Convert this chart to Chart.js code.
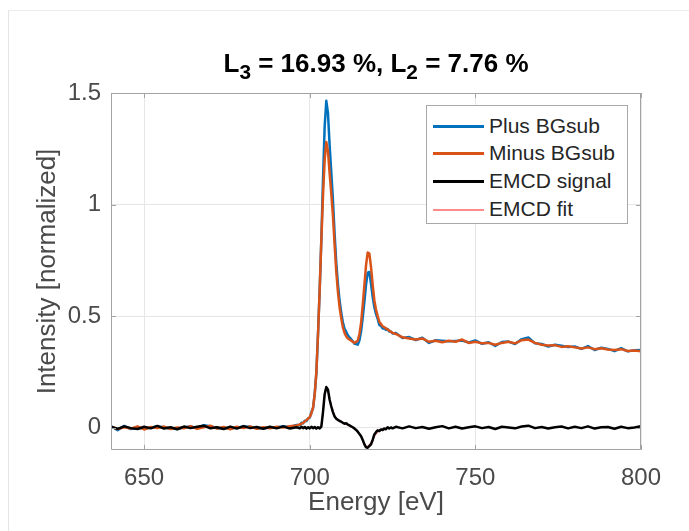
<!DOCTYPE html>
<html>
<head>
<meta charset="utf-8">
<script src="https://cdn.jsdelivr.net/npm/chart.js@4.4.1/dist/chart.umd.min.js"></script>
<style>
  body { margin: 0; background: #fff; }
  #wrap { position: relative; width: 689px; height: 531px; font-family: 'Liberation Sans', Arial, sans-serif; }
  #frame { position: absolute; left: 8px; top: 10px; right: 0; bottom: 0; border-left: 1px solid #e4e4e4; border-top: 1px solid #ececec; }
  #title { position: absolute; left: 111px; width: 530px; top: 50px; text-align: center; font-size: 26px; line-height: 26px; font-weight: bold; color: #000; white-space: nowrap; }
  #title span { font-size: 0.8em; vertical-align: -0.36em; line-height: 0; }
  #legend { position: absolute; left: 426px; top: 105px; width: 200px; height: 117px; border: 1px solid #a8a8a8; background: #fff; }
  .row { position: absolute; left: 0; height: 28px; width: 200px; }
  .row i { position: absolute; left: 6px; width: 51px; top: 13px; height: 3px; }
  .row b { position: absolute; left: 62px; top: 0; font-weight: normal; font-size: 21px; line-height: 28px; color: #262626; white-space: nowrap; }
  canvas { position: absolute; left: 0; top: 0; }
</style>
</head>
<body>
<div id="wrap">
  <div id="frame"></div>
  <canvas id="chart" width="689" height="531"></canvas>
  <div id="title">L<span>3</span> = 16.93 %, L<span>2</span> = 7.76 %</div>
  <div id="legend">
    <div class="row" style="top:6px"><i style="background:#0072BD"></i><b>Plus BGsub</b></div>
    <div class="row" style="top:33px"><i style="background:#D95319"></i><b>Minus BGsub</b></div>
    <div class="row" style="top:61px"><i style="background:#000"></i><b>EMCD signal</b></div>
    <div class="row" style="top:89px"><i style="background:#ff8c8c;height:2px;top:14px"></i><b>EMCD fit</b></div>
  </div>
</div>
<script>
'use strict';
// energy axis in eV (coarser away from the edges)
let energy = [
  640, 642, 644, 646, 648, 650, 652, 654, 656, 658,
  660, 662, 664, 666, 668, 670, 672, 674, 676, 678,
  680, 682, 684, 686, 688, 690, 692, 694, 696,
  697, 697.5, 698, 698.5, 699, 699.5, 700, 700.5, 701, 701.5,
  702, 702.5, 703, 703.5, 704, 704.5, 705, 705.5, 706, 706.5,
  707, 707.5, 708, 708.5, 709, 709.5, 710, 710.5, 711, 711.5,
  712, 712.5, 713, 713.5, 714, 714.5, 715, 715.5, 716, 716.5,
  717, 717.5, 718, 718.5, 719, 719.5, 720, 720.5, 721, 721.5,
  722, 722.5, 723, 723.5, 724, 724.5, 725,
  726, 728, 730, 732, 734, 736, 738, 740, 742, 744,
  746, 748, 750, 752, 754, 756, 758, 760, 762, 764,
  766, 768, 770, 772, 774, 776, 778, 780, 782, 784,
  786, 788, 790, 792, 794, 796, 798, 800
];
let plusBG = [
  0.007, -0.011, 0.008, -0.006, 0.000, -0.004, 0.000, 0.006, 0.001, -0.004,
  -0.006, 0.002, 0.005, -0.001, 0.011, 0.006, -0.002, -0.003, -0.002, 0.000,
  0.005, 0.004, -0.002, -0.003, 0.001, 0.001, 0.007, 0.002, 0.012,
  0.011, 0.022, 0.020, 0.031, 0.030, 0.042, 0.045, 0.069, 0.088, 0.153,
  0.246, 0.422, 0.617, 0.845, 1.11, 1.35, 1.465, 1.41, 1.265, 1.145,
  1.02, 0.87, 0.74, 0.645, 0.57, 0.517, 0.472, 0.443, 0.43, 0.414,
  0.405, 0.396, 0.387, 0.376, 0.375, 0.372, 0.392, 0.432, 0.495, 0.565,
  0.642, 0.695, 0.698, 0.645, 0.585, 0.54, 0.51, 0.488, 0.46, 0.457,
  0.445, 0.446, 0.438, 0.442, 0.431, 0.431, 0.422,
  0.424, 0.402, 0.406, 0.393, 0.403, 0.380, 0.392, 0.390, 0.387, 0.389,
  0.391, 0.382, 0.391, 0.376, 0.383, 0.366, 0.384, 0.386, 0.375, 0.397,
  0.404, 0.378, 0.375, 0.364, 0.372, 0.367, 0.362, 0.364, 0.353, 0.366,
  0.348, 0.358, 0.353, 0.343, 0.356, 0.342, 0.347, 0.348
];
let minusBG = [
  0.004, -0.006, 0.002, -0.004, 0.006, -0.008, 0.003, -0.002, 0.005, -0.006,
  0.001, -0.003, 0.007, -0.005, 0.002, 0.009, -0.004, 0.003, -0.007, 0.004,
  -0.002, 0.006, -0.005, 0.002, -0.003, 0.004, 0.001, 0.006, 0.010,
  0.014, 0.018, 0.022, 0.028, 0.034, 0.040, 0.048, 0.065, 0.09, 0.15,
  0.25, 0.42, 0.62, 0.84, 1.04, 1.20, 1.28, 1.24, 1.14, 1.05,
  0.95, 0.82, 0.70, 0.61, 0.54, 0.49, 0.45, 0.425, 0.41, 0.40,
  0.395, 0.39, 0.385, 0.38, 0.385, 0.39, 0.42, 0.47, 0.55, 0.64,
  0.73, 0.785, 0.78, 0.72, 0.64, 0.57, 0.53, 0.50, 0.475, 0.465,
  0.455, 0.45, 0.445, 0.44, 0.435, 0.43, 0.425,
  0.420, 0.405, 0.400, 0.395, 0.400, 0.385, 0.390, 0.383, 0.390, 0.385,
  0.395, 0.380, 0.385, 0.378, 0.380, 0.372, 0.380, 0.385, 0.378, 0.392,
  0.395, 0.380, 0.372, 0.368, 0.370, 0.362, 0.365, 0.360, 0.355, 0.360,
  0.352, 0.356, 0.350, 0.348, 0.352, 0.344, 0.346, 0.342
];
let emcdSignal = [
  0.003, -0.005, 0.006, -0.002, -0.006, 0.004, -0.003, 0.008, -0.004, 0.002,
  -0.007, 0.005, -0.002, 0.004, 0.009, -0.003, 0.002, -0.006, 0.005, -0.004,
  0.007, -0.002, 0.003, -0.005, 0.004, -0.003, 0.006, -0.004, 0.002,
  -0.003, 0.004, -0.002, 0.003, -0.004, 0.002, -0.003, 0.004, -0.002, 0.003,
  -0.004, 0.002, -0.003, 0.005, 0.07, 0.15, 0.182, 0.17, 0.125, 0.095,
  0.07, 0.05, 0.04, 0.035, 0.03, 0.027, 0.022, 0.018, 0.02, 0.014,
  0.01, 0.006, 0.002, -0.004, -0.01, -0.018, -0.028, -0.038, -0.055, -0.075,
  -0.088, -0.09, -0.082, -0.075, -0.055, -0.03, -0.02, -0.012, -0.015, -0.008,
  -0.01, -0.004, -0.007, 0.002, -0.004, 0.001, -0.003,
  0.004, -0.003, 0.006, -0.002, 0.003, -0.005, 0.002, 0.007, -0.003, 0.004,
  -0.004, 0.002, 0.006, -0.002, 0.003, -0.006, 0.004, 0.001, -0.003, 0.005,
  0.009, -0.002, 0.003, -0.004, 0.002, 0.005, -0.003, 0.004, -0.002, 0.006,
  -0.004, 0.002, 0.003, -0.005, 0.004, -0.002, 0.001, 0.006
];
// fit only covers the edge region
let fitEnergy = [
  697, 698, 699, 700, 701, 702, 703, 703.5, 704, 704.5,
  705, 705.5, 706, 706.5, 707, 707.5, 708, 708.5, 709, 709.5,
  710, 710.5, 711, 711.5, 712, 712.5, 713, 713.5, 714, 714.5,
  715, 715.5, 716, 716.5, 717, 717.5, 718, 718.5, 719, 719.5,
  720, 720.5, 721, 721.5, 722, 722.5, 723, 724, 725
];
let emcdFit = [
  0, 0, 0, 0, 0, 0, 0, 0.01, 0.07, 0.145,
  0.178, 0.165, 0.128, 0.097, 0.072, 0.054, 0.042, 0.035, 0.03, 0.026,
  0.022, 0.019, 0.016, 0.012, 0.008, 0.004, 0, -0.005, -0.011, -0.019,
  -0.028, -0.04, -0.056, -0.072, -0.083, -0.085, -0.078, -0.066, -0.052, -0.038,
  -0.027, -0.019, -0.013, -0.009, -0.006, -0.004, -0.003, -0.001, 0
];
let xTicks = [650, 700, 750, 800];
let yTicks = [0, 0.5, 1, 1.5];
let yTickLabels = ['0', '0.5', '1', '1.5'];

function pairs(xs, ys) {
  return xs.map((x, i) => ({ x: x, y: ys[i] }));
}

// axes box and inward tick marks like the original figure
const boxTicks = {
  id: 'boxTicks',
  afterDraw(chart) {
    let ctx = chart.ctx;
    let a = chart.chartArea;
    let sx = chart.scales.x;
    let sy = chart.scales.y;
    ctx.save();
    ctx.strokeStyle = '#a3a3a3';
    ctx.lineWidth = 1;
    ctx.beginPath();
    ctx.rect(Math.round(a.left) + 0.5, Math.round(a.top) + 0.5, Math.round(a.right - a.left) - 1, Math.round(a.bottom - a.top) - 1);
    xTicks.forEach(v => {
      let px = Math.round(sx.getPixelForValue(v)) + 0.5;
      ctx.moveTo(px, a.bottom); ctx.lineTo(px, a.bottom - 5);
      ctx.moveTo(px, a.top); ctx.lineTo(px, a.top + 5);
    });
    yTicks.forEach(v => {
      let py = Math.round(sy.getPixelForValue(v)) + 0.5;
      ctx.moveTo(a.left, py); ctx.lineTo(a.left + 5, py);
      ctx.moveTo(a.right, py); ctx.lineTo(a.right - 5, py);
    });
    ctx.stroke();
    ctx.restore();
  }
};

Chart.defaults.font.family = "'Liberation Sans', Arial, sans-serif";
Chart.defaults.color = '#4a4a4a';

new Chart(document.getElementById('chart'), {
  type: 'line',
  data: {
    datasets: [
      { label: 'Plus BGsub', data: pairs(energy, plusBG), borderColor: '#0072BD', borderWidth: 2.5, order: 4 },
      { label: 'Minus BGsub', data: pairs(energy, minusBG), borderColor: '#D95319', borderWidth: 2.5, order: 3 },
      { label: 'EMCD signal', data: pairs(energy, emcdSignal), borderColor: '#000000', borderWidth: 2.5, order: 1 },
      { label: 'EMCD fit', data: pairs(fitEnergy, emcdFit), borderColor: '#ff7a7a', borderWidth: 1.5, order: 2 }
    ]
  },
  options: {
    responsive: false,
    animation: false,
    devicePixelRatio: 1,
    elements: { point: { radius: 0 }, line: { tension: 0, borderJoinStyle: 'round' } },
    layout: { padding: { left: 0, right: 48, top: 93, bottom: 0 } },
    plugins: { legend: { display: false }, tooltip: { enabled: false } },
    scales: {
      x: {
        type: 'linear',
        min: 640,
        max: 800,
        afterBuildTicks: s => { s.ticks = xTicks.map(v => ({ value: v })); },
        afterFit: s => { s.height = 81; },
        grid: { color: '#e6e6e6', drawTicks: false },
        border: { display: false },
        ticks: { padding: 14, font: { size: 24 }, color: '#4a4a4a', maxRotation: 0 },
        title: { display: true, text: 'Energy [eV]', font: { size: 26 }, color: '#4a4a4a', padding: { top: 0, bottom: 13 } }
      },
      y: {
        type: 'linear',
        min: -0.1,
        max: 1.5,
        afterBuildTicks: s => { s.ticks = yTicks.map(v => ({ value: v })); },
        afterFit: s => { s.width = 111; },
        grid: { color: '#e6e6e6', drawTicks: false },
        border: { display: false },
        ticks: { padding: 10, font: { size: 24 }, color: '#4a4a4a', callback: (v, i) => yTickLabels[i] },
        title: { display: true, text: 'Intensity [normalized]', font: { size: 26 }, color: '#4a4a4a', padding: { top: 32, bottom: 0 } }
      }
    }
  },
  plugins: [boxTicks]
});
</script>
</body>
</html>
